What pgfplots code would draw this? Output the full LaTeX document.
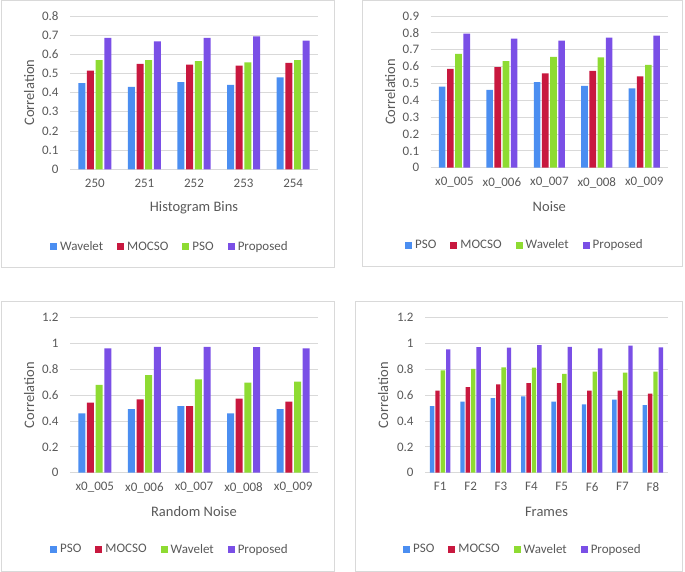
\documentclass[border=0pt]{standalone}
\usepackage{pgfplots}
\pgfplotsset{compat=1.18}
\usepackage{fontspec}
\setmainfont{Carlito}
\definecolor{cblue}{HTML}{4B8EF1}
\definecolor{cred}{HTML}{C8183F}
\definecolor{cgreen}{HTML}{8EDB32}
\definecolor{cpurple}{HTML}{7A4FE6}
\definecolor{txtgray}{HTML}{595959}
\definecolor{gridgray}{HTML}{D9D9D9}
\definecolor{framegray}{HTML}{D9D9D9}
\pgfplotsset{
 excel/.style={
  scale only axis, anchor=south west,
  axis lines*=left, axis line style={-},
  x axis line style={draw=gridgray, line width=0.8pt},
  y axis line style={draw=none},
  major tick length=0pt, tick style={draw=none},
  ymajorgrids, grid style={draw=gridgray, line width=0.8pt},
  ymin=0, xtick=data,
  tick label style={font=\fontsize{13}{15}\selectfont, text=txtgray},
  /pgf/number format/assume math mode=true,
  yticklabel style={/pgf/number format/fixed, /pgf/number format/precision=1, xshift=-8pt},
  xticklabel style={yshift=-6pt},
  label style={font=\fontsize{14.5}{16}\selectfont, text=txtgray},
  ylabel=Correlation,
  legend style={draw=none, fill=none, font=\fontsize{13}{15}\selectfont, text=txtgray,
    legend columns=4, anchor=center, legend cell align=left,
    /tikz/every odd column/.append style={column sep=1pt},
    /tikz/every even column/.append style={column sep=12pt}},
 },
 sqlegend/.style={
  legend image code/.code={\fill[##1] (0pt,-3.5pt) rectangle (7pt,3.5pt);},
 }
}
\begin{document}
\begin{tikzpicture}
\path[use as bounding box] (0,0) rectangle (685pt,572pt);
% frames
\draw[framegray, line width=0.8pt] (1pt,304.3pt) rectangle (334.3pt,571.5pt);
\draw[framegray, line width=0.8pt] (362.3pt,306pt) rectangle (682.7pt,571.5pt);
\draw[framegray, line width=0.8pt] (1pt,1pt) rectangle (334.3pt,270.3pt);
\draw[framegray, line width=0.8pt] (355.7pt,1pt) rectangle (682.7pt,270.3pt);

% Panel 1
\begin{axis}[excel, at={(70pt,402.7pt)}, width=248pt, height=153.3pt,
  ybar=1.7pt, bar width=7pt, sqlegend,
  xmin=-0.5, xmax=4.5, ymax=0.8, ytick={0,0.1,0.2,0.3,0.4,0.5,0.6,0.7,0.8},
  xticklabels={250,251,252,253,254},
  xlabel={Histogram Bins},
  xlabel style={at={(axis description cs:0.5,-0.25)}, anchor=center},
  ylabel style={at={(axis description cs:-0.165,0.5)}, anchor=center},
  legend style={at={(axis description cs:0.403,-0.505)}}]
\addplot[fill=cblue, draw=none] coordinates {(0,0.45) (1,0.43) (2,0.455) (3,0.44) (4,0.48)};
\addplot[fill=cred, draw=none] coordinates {(0,0.515) (1,0.55) (2,0.546) (3,0.541) (4,0.555)};
\addplot[fill=cgreen, draw=none] coordinates {(0,0.57) (1,0.57) (2,0.565) (3,0.558) (4,0.57)};
\addplot[fill=cpurple, draw=none] coordinates {(0,0.686) (1,0.668) (2,0.686) (3,0.693) (4,0.672)};
\legend{Wavelet,MOCSO,PSO,Proposed}
\end{axis}

% Panel 2
\begin{axis}[excel, at={(430.7pt,404.3pt)}, width=237.3pt, height=151.7pt,
  ybar=1.6pt, bar width=6.6pt, sqlegend,
  xmin=-0.5, xmax=4.5, ymax=0.9, ytick={0,0.1,0.2,0.3,0.4,0.5,0.6,0.7,0.8,0.9},
  xticklabels={x0\_005,x0\_006,x0\_007,x0\_008,x0\_009},
  xlabel={Noise},
  xlabel style={at={(axis description cs:0.5,-0.257)}, anchor=center},
  ylabel style={at={(axis description cs:-0.171,0.5)}, anchor=center},
  legend style={at={(axis description cs:0.397,-0.51)}}]
\addplot[fill=cblue, draw=none] coordinates {(0,0.481) (1,0.461) (2,0.507) (3,0.485) (4,0.471)};
\addplot[fill=cred, draw=none] coordinates {(0,0.586) (1,0.596) (2,0.56) (3,0.574) (4,0.542)};
\addplot[fill=cgreen, draw=none] coordinates {(0,0.675) (1,0.633) (2,0.657) (3,0.655) (4,0.61)};
\addplot[fill=cpurple, draw=none] coordinates {(0,0.795) (1,0.766) (2,0.754) (3,0.772) (4,0.783)};
\legend{PSO,MOCSO,Wavelet,Proposed}
\end{axis}

% Panel 3
\begin{axis}[excel, at={(70pt,99.3pt)}, width=248pt, height=155pt,
  ybar=1.7pt, bar width=7pt, sqlegend,
  xmin=-0.5, xmax=4.5, ymax=1.2, ytick={0,0.2,0.4,0.6,0.8,1,1.2},
  xticklabels={x0\_005,x0\_006,x0\_007,x0\_008,x0\_009},
  xlabel={Random Noise},
  xlabel style={at={(axis description cs:0.5,-0.252)}, anchor=center},
  ylabel style={at={(axis description cs:-0.165,0.5)}, anchor=center},
  legend style={at={(axis description cs:0.403,-0.494)}}]
\addplot[fill=cblue, draw=none] coordinates {(0,0.459) (1,0.493) (2,0.516) (3,0.459) (4,0.493)};
\addplot[fill=cred, draw=none] coordinates {(0,0.542) (1,0.568) (2,0.516) (3,0.573) (4,0.55)};
\addplot[fill=cgreen, draw=none] coordinates {(0,0.679) (1,0.756) (2,0.723) (3,0.697) (4,0.705)};
\addplot[fill=cpurple, draw=none] coordinates {(0,0.963) (1,0.975) (2,0.975) (3,0.973) (4,0.963)};
\legend{PSO,MOCSO,Wavelet,Proposed}
\end{axis}

% Panel 4
\begin{axis}[excel, at={(425pt,99.3pt)}, width=243pt, height=155pt,
  ybar=1.0pt, bar width=4.4pt, sqlegend,
  xmin=-0.5, xmax=7.5, ymax=1.2, ytick={0,0.2,0.4,0.6,0.8,1,1.2},
  xticklabels={F1,F2,F3,F4,F5,F6,F7,F8},
  xlabel={Frames},
  xlabel style={at={(axis description cs:0.5,-0.252)}, anchor=center},
  ylabel style={at={(axis description cs:-0.172,0.5)}, anchor=center},
  legend style={at={(axis description cs:0.403,-0.494)}}]
\addplot[fill=cblue, draw=none] coordinates {(0,0.516) (1,0.55) (2,0.578) (3,0.591) (4,0.55) (5,0.529) (6,0.565) (7,0.524)};
\addplot[fill=cred, draw=none] coordinates {(0,0.635) (1,0.663) (2,0.684) (3,0.694) (4,0.694) (5,0.635) (6,0.635) (7,0.612)};
\addplot[fill=cgreen, draw=none] coordinates {(0,0.792) (1,0.803) (2,0.815) (3,0.813) (4,0.766) (5,0.782) (6,0.774) (7,0.782)};
\addplot[fill=cpurple, draw=none] coordinates {(0,0.955) (1,0.973) (2,0.968) (3,0.988) (4,0.975) (5,0.963) (6,0.983) (7,0.970)};
\legend{PSO,MOCSO,Wavelet,Proposed}
\end{axis}
\end{tikzpicture}
\end{document}
